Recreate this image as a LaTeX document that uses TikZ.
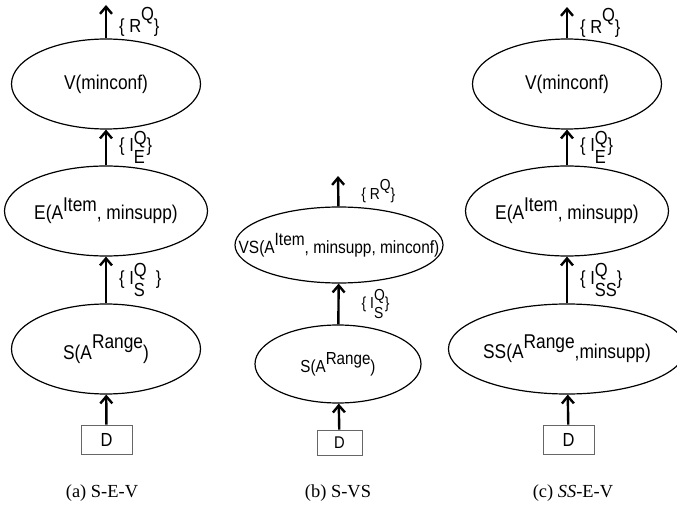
\documentclass[tikz,border=0pt]{standalone}
\usepackage{fontspec}
\setmainfont{Liberation Serif}
\setsansfont{Liberation Sans}
\newfontfamily\diag[FakeStretch=0.87]{Liberation Sans}
\usetikzlibrary{arrows.meta,shapes.geometric}

% raised index and stacked indices
\newcommand{\up}[2][0.5em]{\raisebox{#1}{#2}}
\newcommand{\stk}[2]{$\vcenter{\hbox{\shortstack[l]{#1\\#2}}}$}

\begin{document}
\begin{tikzpicture}[
    x=1bp, y=-1bp,
    op/.style={ellipse, draw, line width=1.2bp, inner sep=0pt, minimum width=189bp, minimum height=90bp, font=\diag\fontsize{20}{24}\selectfont},
    opsmall/.style={op, font=\diag\fontsize{17.5}{21}\selectfont},
    data/.style={rectangle, draw=black!60, line width=0.8bp, inner sep=0pt, minimum width=51bp, minimum height=29bp, font=\diag\fontsize{19}{22}\selectfont},
    flow/.style={-{Straight Barb[length=7bp, width=12bp]}, line width=2.4bp},
    lbl/.style={right, xshift=12bp, inner sep=0pt, font=\diag\fontsize{19}{22}\selectfont},
    lblsmall/.style={lbl, xshift=10bp, font=\diag\fontsize{16}{19}\selectfont},
    caption/.style={font=\fontsize{18.5}{21}\selectfont},
]
\useasboundingbox (0,0) rectangle (677,507);

% (a) S-E-V
\node[op] (va) at (106,84) {V(minconf)};
\node[op] (ea) at (106,211) {E(A\up[0.4em]{Item}, minsupp)};
\node[op] (sa) at (106,349) {S(A\up[0.55em]{Range})};
\node[data] (da) at (106.5,439.5) {D};
\coordinate (ra) at (106,5);
\draw[flow] (da) -- (sa);
\draw[flow] (sa) -- node[lbl] {\{ I\stk{Q}{S}\ \ \}} (ea);
\draw[flow] (ea) -- node[lbl] {\{ I\stk{Q}{E}\}} (va);
\draw[flow] (va) -- node[lbl] {\{ R\up[0.6em]{Q}\}} (ra);
\node[caption] (capa) at (102,493) {(a) S-E-V};

% (b) S-VS
\node[opsmall, minimum width=208bp, minimum height=76bp, inner xsep=-40bp, font=\diag\fontsize{17.8}{21}\selectfont] (vsb) at (339,245) {VS(A\up[0.45em]{Item}, minsupp, minconf)};
\node[opsmall, minimum width=166bp, minimum height=78bp] (sb) at (338,364) {S(A\up[0.47em]{Range})};
\node[data, minimum width=45bp, minimum height=25bp, font=\diag\fontsize{17}{20}\selectfont] (db) at (339.5,442.5) {D};
\coordinate (rb) at (338,176);
\draw[flow] (db) -- (sb);
\draw[flow] (sb) -- node[lblsmall] {\{ I\stk{Q}{S}\}} (vsb);
\draw[flow] (vsb) -- node[lblsmall] {\{ R\up[0.6em]{Q}\}} (rb);
\node[caption] (capb) at (338,493) {(b) S-VS};

% (c) SS-E-V
\node[op] (vc) at (567,84) {V(minconf)};
\node[op] (ec) at (567,211) {E(A\up[0.4em]{Item}, minsupp)};
\node[op] (sc) at (567,349) {SS(A\up[0.5em]{Range},minsupp)};
\node[data] (dc) at (568.5,439.5) {D};
\coordinate (rc) at (567,7);
\draw[flow] (dc) -- (sc);
\draw[flow] (sc) -- node[lbl] {\{ I\stk{Q}{SS}\}} (ec);
\draw[flow] (ec) -- node[lbl] {\{ I\stk{Q}{E}\}} (vc);
\draw[flow] (vc) -- node[lbl] {\{ R\up[0.6em]{Q}\}} (rc);
\node[caption] (capc) at (573,493) {(c) \textit{SS}-E-V};

\end{tikzpicture}
\end{document}
